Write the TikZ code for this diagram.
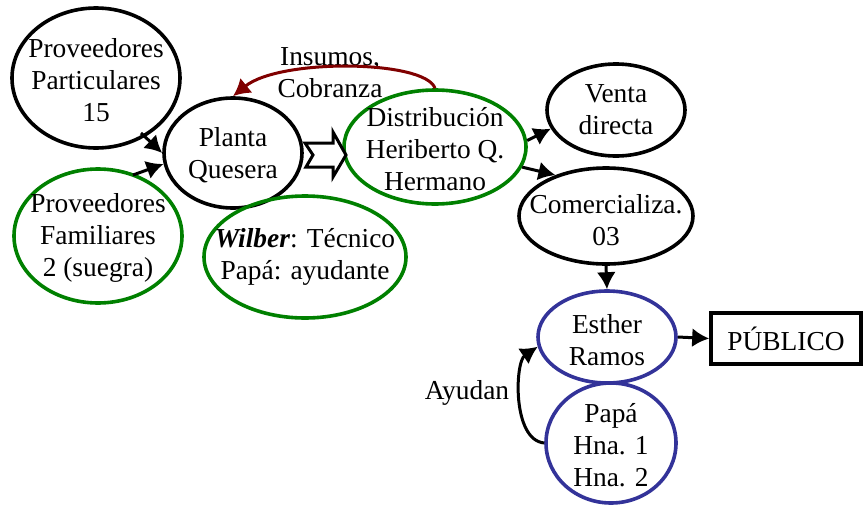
\documentclass[tikz,border=0pt]{standalone}
\usepackage{fontspec}
\setmainfont{Liberation Serif}
\usetikzlibrary{shapes.geometric,arrows.meta}
\definecolor{ovgreen}{RGB}{0,128,0}
\definecolor{ovblue}{RGB}{51,51,153}
\definecolor{ovred}{RGB}{128,0,0}
\begin{document}
\begin{tikzpicture}[x=0.5pt,y=-0.5pt,
  font=\fontsize{13.7}{16}\selectfont,
  txt/.style={align=center,inner sep=0pt},
  oval/.style={ellipse,draw,line width=1.8pt,inner sep=0pt},
  blk/.style={oval,draw=black},
  grn/.style={oval,draw=ovgreen},
  blu/.style={oval,draw=ovblue},
  tip/.style={-{Latex[length=8.5pt,width=9.5pt]}},
  link/.style={line width=1.5pt,tip},
  lbl/.style={align=center,inner sep=0pt}]
\useasboundingbox (0,0) rectangle (863,504);

% actors: the outline is the node, its text sits in a centred label
\node[blk,minimum width=84pt,minimum height=70pt,
  label={[txt,yshift=-1pt]center:Proveedores\\Particulares\\15}] (partic) at (96,78) {};
\node[grn,minimum width=84pt,minimum height=67pt,
  label={[txt,yshift=-1pt]center:Proveedores\\Familiares\\2 (suegra)}] (famil) at (98,236) {};
\node[blk,minimum width=69pt,minimum height=55pt,
  label={[txt,yshift=-1pt]center:Planta\\Quesera}] (planta) at (233,153) {};
\node[grn,minimum width=101pt,minimum height=61pt,
  label={[txt]center:\textbf{\textit{Wilber}}: Técnico\\Papá: ayudante}] (tecnico) at (305,257) {};
\node[grn,minimum width=91pt,minimum height=57pt,
  label={[txt,yshift=-1pt]center:Distribución\\Heriberto Q.\\Hermano}] (distrib) at (435,147) {};
\node[blk,minimum width=69pt,minimum height=46pt,
  label={[txt]center:Venta\\directa}] (venta) at (616,110) {};
\node[blk,minimum width=87pt,minimum height=48pt,
  label={[txt,yshift=-2pt]center:Comercializa.\\03}] (comerc) at (606,216) {};
\node[blu,minimum width=69pt,minimum height=46pt,
  label={[txt,yshift=-1.5pt]center:Esther\\Ramos}] (esther) at (607,337) {};
\node[blu,minimum width=65pt,minimum height=60pt,
  label={[txt,yshift=-1pt]center:Papá\\Hna. 1\\Hna. 2}] (ayuda) at (611,443) {};
\node[draw,line width=1.8pt,minimum width=75pt,minimum height=25.5pt,
  inner sep=0pt] (publico) at (786,338.5) {PÚBLICO};

% labels
\node[lbl] (insumos) at (330,73) {Insumos,\\Cobranza};
\node[lbl] (ayudan) at (467,393) {Ayudan};

% flows
\draw[link] (141,133) -- (planta.180);
\draw[link] (133,175) -- (planta.189);
\draw[line width=1.5pt,ovred,tip]
  (distrib.north) .. controls (425,60) and (280,58) .. (planta.north);
\draw[line width=1.5pt,fill=white]
  (305,143) -- (333,143) -- (333,132) -- (346,155) -- (333,177)
  -- (333,167) -- (306,167) -- (313,155) -- cycle;
\draw[link] (distrib.4) -- (venta.196);
\draw[link] (distrib.-13) -- (comerc.141);
\draw[link] (comerc.south) -- (esther.north);
\draw[link] (esther.east) -- (publico.west);
\draw[link] (ayuda.west) .. controls (512,440) and (515,362) .. (esther.188);
\end{tikzpicture}
\end{document}
